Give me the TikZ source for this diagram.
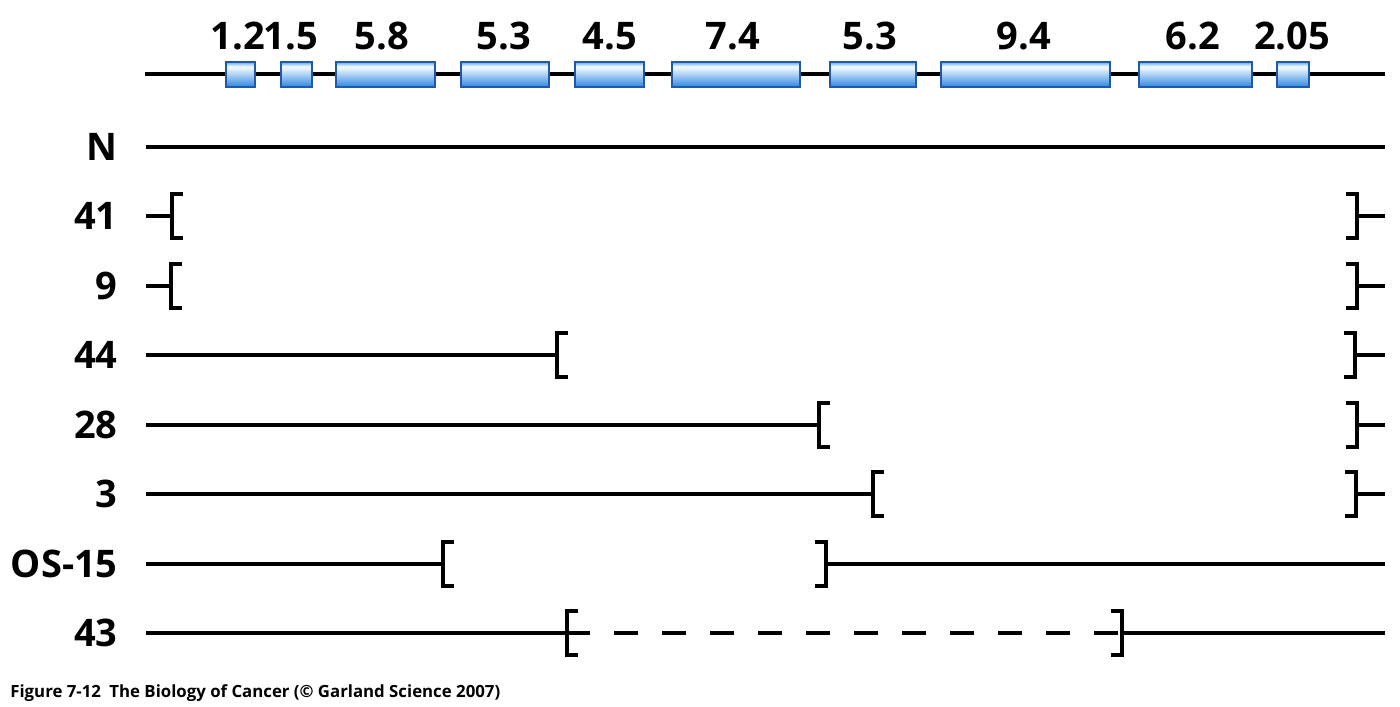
\documentclass[tikz,border=0pt]{standalone}
\usepackage{fontspec}
\setmainfont{Open Sans}
\definecolor{exedge}{HTML}{2258A8}
\definecolor{exbot}{HTML}{2F86E0}
\definecolor{exlight}{HTML}{EAF6FF}
\definecolor{extop}{HTML}{5EAAF0}
\pgfdeclareverticalshading{exonshade}{100bp}{color(0bp)=(exbot); color(25bp)=(exbot); color(63bp)=(exlight); color(67bp)=(exlight); color(75bp)=(extop); color(100bp)=(extop)}
\tikzset{
  gene/.style={line width=2.3pt, line cap=butt},
  exon/.style={draw=exedge, line width=0.8pt, shading=exonshade},
  brk/.style={line width=2.1pt, line cap=butt, line join=miter},
  exlab/.style={font=\bfseries\fontsize{19}{22}\selectfont, anchor=base, inner sep=0pt},
  rowlab/.style={font=\bfseries\fontsize{19}{22}\selectfont, anchor=base east, inner sep=0pt},
  captxt/.style={font=\bfseries\fontsize{8.4}{10}\selectfont, anchor=base west, inner sep=0pt},
  lbr/.pic={\draw[brk] (11,-22) -- (0,-22) -- (0,22) -- (11,22);},
  rbr/.pic={\draw[brk] (-11,-22) -- (0,-22) -- (0,22) -- (-11,22);}
}
\begin{document}
\begin{tikzpicture}[x=0.5pt,y=-0.5pt]
\useasboundingbox (0,0) rectangle (1400,706);
% backbone
\coordinate (g0) at (145,74);
\coordinate (g1) at (1385,74);
\draw[gene] (g0) -- (g1);
% exons
\foreach \a/\b/\n in {226/255/e1,281/312/e2,336/435/e3,461/549/e4,575/644/e5,672/800/e6,830/916/e7,941/1110/e8,1139/1252/e9,1277/1309/e10}{
  \shadedraw[exon] (\a,62) rectangle (\b,87);
}
% exon labels
\node[exlab] (l1) at (238,50) {1.2};
\node[exlab] (l2) at (291,50) {1.5};
\node[exlab] (l3) at (382,50) {5.8};
\node[exlab] (l4) at (504,50) {5.3};
\node[exlab] (l5) at (610,50) {4.5};
\node[exlab] (l6) at (733,50) {7.4};
\node[exlab] (l7) at (870,50) {5.3};
\node[exlab] (l8) at (1024,50) {9.4};
\node[exlab] (l9) at (1193,50) {6.2};
\node[exlab] (l10) at (1292,50) {2.05};
% row labels
\node[rowlab] (rN) at (118,160) {N};
\node[rowlab] (r41) at (118,229) {41};
\node[rowlab] (r9) at (118,299) {9};
\node[rowlab] (r44) at (118,368) {44};
\node[rowlab] (r28) at (118,438) {28};
\node[rowlab] (r3) at (118,507) {3};
\node[rowlab] (rOS) at (118,577) {OS-15};
\node[rowlab] (r43) at (118,646) {43};
% N
\draw[gene] (146,147) coordinate (nA) -- (1385,147) coordinate (nB);
% 41
\draw[gene] (146,216) coordinate (a41) -- (172,216) coordinate (b41);
\pic at (b41) {lbr};
\draw[gene] (1357,216) coordinate (c41) -- (1385,216) coordinate (d41);
\pic at (c41) {rbr};
% 9
\draw[gene] (146,286) coordinate (a9) -- (171,286) coordinate (b9);
\pic at (b9) {lbr};
\draw[gene] (1357,286) coordinate (c9) -- (1385,286) coordinate (d9);
\pic at (c9) {rbr};
% 44
\draw[gene] (146,355) coordinate (a44) -- (557,355) coordinate (b44);
\pic at (b44) {lbr};
\draw[gene] (1355,355) coordinate (c44) -- (1385,355) coordinate (d44);
\pic at (c44) {rbr};
% 28
\draw[gene] (146,425) coordinate (a28) -- (819,425) coordinate (b28);
\pic at (b28) {lbr};
\draw[gene] (1357,425) coordinate (c28) -- (1385,425) coordinate (d28);
\pic at (c28) {rbr};
% 3
\draw[gene] (146,494) coordinate (a3) -- (873,494) coordinate (b3);
\pic at (b3) {lbr};
\draw[gene] (1356,494) coordinate (c3) -- (1385,494) coordinate (d3);
\pic at (c3) {rbr};
% OS-15
\draw[gene] (146,564) coordinate (aOS) -- (443,564) coordinate (bOS);
\pic at (bOS) {lbr};
\draw[gene] (826,564) coordinate (cOS) -- (1385,564) coordinate (dOS);
\pic at (cOS) {rbr};
% 43
\draw[gene] (146,633) coordinate (a43) -- (567,633) coordinate (b43);
\pic at (b43) {lbr};
\draw[gene, dash pattern=on 12pt off 12pt] (566,633) -- (1120,633) coordinate (c43x);
\draw[gene] (1122,633) coordinate (c43) -- (1385,633) coordinate (d43);
\pic at (c43) {rbr};
% caption
\node[captxt] (caption) at (10,697) {Figure 7-12\hspace{0.5em}The Biology of Cancer (© Garland Science 2007)};
\end{tikzpicture}
\end{document}
